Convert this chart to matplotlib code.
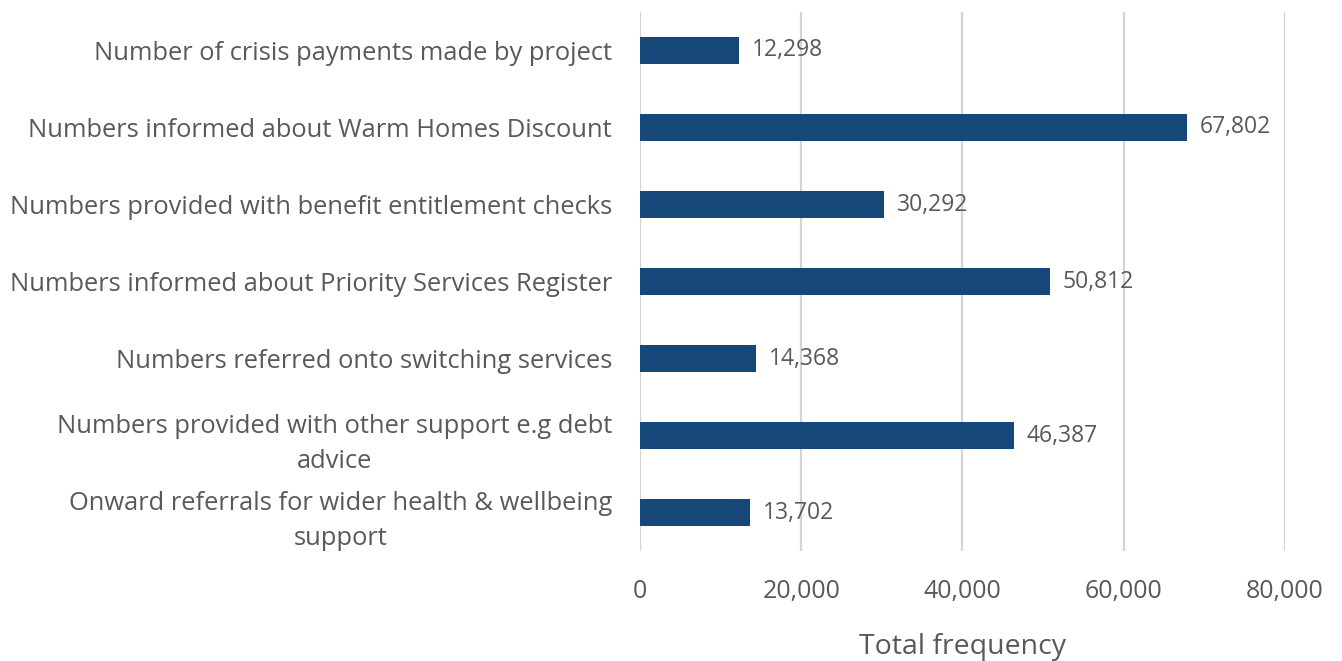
import matplotlib.pyplot as plt
from matplotlib.ticker import FuncFormatter

categories = [
    "Number of crisis payments made by project",
    "Numbers informed about Warm Homes Discount",
    "Numbers provided with benefit entitlement checks",
    "Numbers informed about Priority Services Register",
    "Numbers referred onto switching services",
    "Numbers provided with other support e.g debt\nadvice",
    "Onward referrals for wider health & wellbeing\nsupport",
]
values = [12298, 67802, 30292, 50812, 14368, 46387, 13702]
x_ticks = [0, 20000, 40000, 60000, 80000]

plt.rcParams['font.family'] = ['Open Sans', 'DejaVu Sans']
grey = '#595959'
bar_col = '#154878'

fig = plt.figure(figsize=(13.42, 6.61), dpi=100)
ax = fig.add_axes([0.4769, 0.166, 0.4806, 0.816])

ypos = list(range(len(categories)))
ax.barh(ypos, values, height=0.35, color=bar_col, zorder=3)
for y, v in zip(ypos, values):
    ax.text(v + 1600, y, f"{v:,}", va='center', ha='left', fontsize=16.5, color=grey)

ax.set_yticks(ypos)
ax.set_yticklabels(categories, fontsize=18.4, color=grey,
                   multialignment='center', linespacing=1.55)
ax.set_ylim(len(categories) - 0.5, -0.5)
ax.set_xlim(0, 80000)
ax.set_xticks(x_ticks)
ax.xaxis.set_major_formatter(FuncFormatter(lambda v, p: f"{int(v):,}"))
ax.tick_params(axis='x', labelsize=18, colors=grey, length=0, pad=20)
ax.tick_params(axis='y', length=0, pad=20)
ax.set_xlabel("Total frequency", fontsize=20.5, color=grey, labelpad=21)

ax.grid(axis='x', color='#d4d4d4', linewidth=1.6, zorder=0)
for s in ax.spines.values():
    s.set_visible(False)

fig.savefig('out.png', dpi=100)
